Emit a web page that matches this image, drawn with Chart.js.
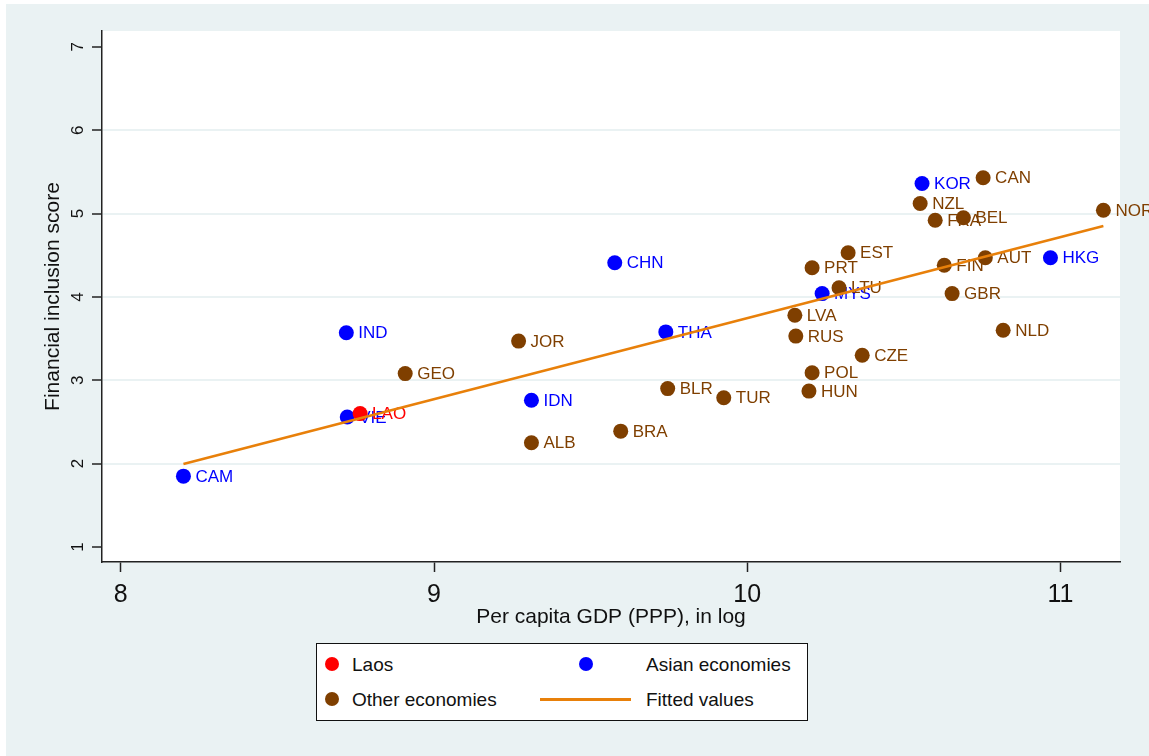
<!DOCTYPE html>
<html>
<head>
<meta charset="utf-8">
<script src="https://cdn.jsdelivr.net/npm/chart.js@4"></script>
<style>
  html, body { margin: 0; padding: 0; background: #ffffff; }
  #wrap { position: relative; width: 1149px; height: 756px; }
  #chart { position: absolute; left: 0; top: 0; }
  #legend {
    position: absolute; left: 316px; top: 643px; width: 492px; height: 78px;
    background: #ffffff; border: 1px solid #111; box-sizing: border-box;
    font-family: "Liberation Sans", Arial, sans-serif; font-size: 19px; color: #111;
  }
  .item { position: absolute; line-height: 20px; }
  .dot { position: absolute; width: 14px; height: 14px; border-radius: 50%; }
  .ln { position: absolute; height: 3px; background: #E8800A; }
</style>
</head>
<body>
<div id="wrap">
  <canvas id="chart" width="1149" height="756"></canvas>
  <div id="legend">
    <div class="dot" style="left:8px;top:13px;background:#ff0000"></div>
    <div class="item" style="left:35px;top:11px">Laos</div>
    <div class="dot" style="left:262px;top:13px;background:#0000ff"></div>
    <div class="item" style="left:329px;top:11px">Asian economies</div>
    <div class="dot" style="left:8px;top:48px;background:#7F3F00"></div>
    <div class="item" style="left:35px;top:46px">Other economies</div>
    <div class="ln" style="left:223px;top:54px;width:91px"></div>
    <div class="item" style="left:329px;top:46px">Fitted values</div>
  </div>
</div>
<script>
// Data
const laosCodes = ["LAO"];
const laosX = [8.764];
const laosY = [2.60];

const asianCodes = ["CAM", "VIE", "IND", "IDN", "CHN", "THA", "MYS", "KOR", "HKG"];
const asianX = [8.20, 8.723, 8.72, 9.311, 9.577, 9.74, 10.239, 10.558, 10.968];
const asianY = [1.85, 2.56, 3.57, 2.76, 4.41, 3.58, 4.04, 5.36, 4.47];

const otherCodes = ["GEO", "JOR", "ALB", "BRA", "BLR", "TUR", "LVA", "RUS", "HUN", "POL", "PRT",
  "LTU", "EST", "CZE", "NZL", "FRA", "FIN", "GBR", "BEL", "AUT", "CAN", "NLD", "NOR"];
const otherX = [8.908, 9.27, 9.311, 9.596, 9.746, 9.925, 10.152, 10.155, 10.197, 10.207, 10.207,
  10.293, 10.322, 10.367, 10.552, 10.60, 10.629, 10.654, 10.69, 10.76, 10.753, 10.817, 11.137];
const otherY = [3.08, 3.47, 2.25, 2.39, 2.90, 2.79, 3.78, 3.53, 2.87, 3.09, 4.35,
  4.11, 4.53, 3.30, 5.12, 4.92, 4.38, 4.04, 4.95, 4.47, 5.43, 3.60, 5.04];

const fitX = [8.20, 11.137];
const fitY = [1.996, 4.85];

const xTicks = [8, 9, 10, 11];
const yTicks = [1, 2, 3, 4, 5, 6, 7];

const FONT = "'Liberation Sans', Arial, sans-serif";
const BG = "#EAF2F3";

function toPoints(xs, ys) {
  return xs.map((x, i) => ({ x: x, y: ys[i] }));
}

// background + white plot region
const backgroundPlugin = {
  id: "bg",
  beforeDraw(chart) {
    const ctx = chart.ctx;
    const a = chart.chartArea;
    ctx.save();
    ctx.fillStyle = "#ffffff";
    ctx.fillRect(0, 0, chart.width, chart.height);
    ctx.fillStyle = BG;
    ctx.fillRect(6, 4, chart.width - 6, chart.height - 4);
    ctx.fillStyle = "#ffffff";
    ctx.fillRect(a.left, a.top, a.right - a.left, a.bottom - a.top);
    ctx.restore();
  },
};

// country codes next to each marker
const markerLabels = {
  id: "markerLabels",
  afterDatasetDraw(chart, args) {
    const ds = chart.data.datasets[args.index];
    if (!ds.codes) return;
    const ctx = chart.ctx;
    ctx.save();
    ctx.font = "17px " + FONT;
    ctx.fillStyle = ds.backgroundColor;
    ctx.textAlign = "left";
    ctx.textBaseline = "middle";
    args.meta.data.forEach((el, i) => {
      ctx.fillText(ds.codes[i], el.x + 12, el.y + 1);
    });
    ctx.restore();
  },
};

const ctx = document.getElementById("chart").getContext("2d");
new Chart(ctx, {
  type: "scatter",
  data: {
    datasets: [
      {
        label: "Fitted values",
        type: "line",
        data: toPoints(fitX, fitY),
        borderColor: "#E8800A",
        borderWidth: 2.5,
        pointRadius: 0,
        fill: false,
        order: 0,
      },
      {
        label: "Laos",
        data: toPoints(laosX, laosY),
        codes: laosCodes,
        backgroundColor: "#ff0000",
        pointRadius: 7.5,
        borderWidth: 0,
        order: 1,
      },
      {
        label: "Other economies",
        data: toPoints(otherX, otherY),
        codes: otherCodes,
        backgroundColor: "#7F3F00",
        pointRadius: 7.5,
        borderWidth: 0,
        order: 2,
      },
      {
        label: "Asian economies",
        data: toPoints(asianX, asianY),
        codes: asianCodes,
        backgroundColor: "#0000ff",
        pointRadius: 7.5,
        borderWidth: 0,
        order: 3,
      },
    ],
  },
  options: {
    responsive: false,
    animation: false,
    layout: { padding: { left: 0, top: 31, right: 29, bottom: 0 } },
    plugins: {
      legend: { display: false },
      tooltip: { enabled: false },
    },
    scales: {
      x: {
        type: "linear",
        min: 7.94,
        max: 11.19,
        afterBuildTicks(scale) {
          scale.ticks = xTicks.map((v) => ({ value: v }));
        },
        afterFit(scale) {
          scale.height = 194;
        },
        grid: {
          drawOnChartArea: false,
          drawTicks: true,
          tickLength: 10,
          tickColor: "#222",
          tickWidth: 1.5,
        },
        border: { display: true, color: "#222", width: 1.5 },
        ticks: {
          color: "#111",
          font: { family: FONT, size: 25 },
          padding: 8,
          maxRotation: 0,
          minRotation: 0,
        },
        title: {
          display: true,
          text: "Per capita GDP (PPP), in log",
          color: "#111",
          font: { family: FONT, size: 21 },
          padding: { top: 0, bottom: 126 },
        },
      },
      y: {
        type: "linear",
        min: 0.82,
        max: 7.19,
        afterBuildTicks(scale) {
          scale.ticks = yTicks.map((v) => ({ value: v }));
        },
        afterFit(scale) {
          scale.width = 102;
        },
        grid: {
          color: (c) => (c.tick && (c.tick.value === 1 || c.tick.value === 7) ? "rgba(0,0,0,0)" : BG),
          lineWidth: 2,
          drawTicks: true,
          tickLength: 10,
          tickColor: "#222",
          tickWidth: 1.5,
        },
        border: { display: true, color: "#222", width: 1.5 },
        ticks: {
          color: "#111",
          font: { family: FONT, size: 17 },
          padding: 9,
          crossAlign: "center",
          minRotation: 90,
          maxRotation: 90,
        },
        title: {
          display: true,
          text: "Financial inclusion score",
          color: "#111",
          font: { family: FONT, size: 21 },
          padding: { top: 41, bottom: 0 },
        },
      },
    },
  },
  plugins: [backgroundPlugin, markerLabels],
});
</script>
</body>
</html>
